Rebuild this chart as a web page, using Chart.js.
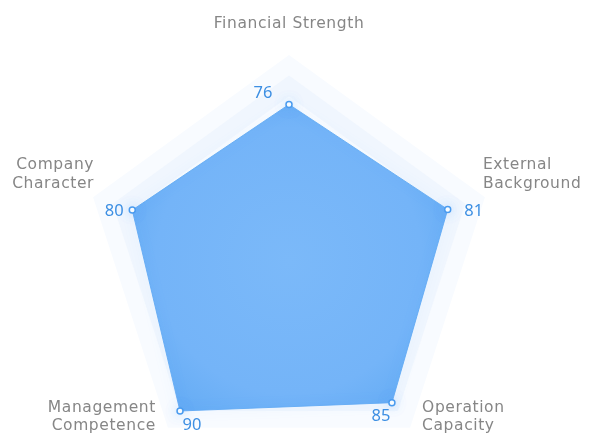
<!DOCTYPE html>
<html>
<head>
<meta charset="utf-8">
<style>
  html, body { margin: 0; padding: 0; background: #ffffff; overflow: hidden; }
  #wrap { width: 589px; height: 480px; position: relative; }
</style>
<script src="https://cdn.jsdelivr.net/npm/chart.js@4/dist/chart.umd.min.js"></script>
</head>
<body>
<div id="wrap"><canvas id="c" width="589" height="480"></canvas></div>
<script>
// ---- data ----
const categories = [
  ['Financial Strength'],
  ['External', 'Background'],
  ['Operation', 'Capacity'],
  ['Management', 'Competence'],
  ['Company', 'Character']
];
const scores = [76, 81, 85, 90, 80];
const scaleMin = 0;
const scaleMax = 100;
const bandStep = 10;

// ---- presentation ----
const nameStyle = [
  { align: 'center', dx: 0,   dy: [-31] },
  { align: 'left',   dx: -2,  dy: [-32, -13] },
  { align: 'left',   dx: 12,  dy: [-20, -2] },
  { align: 'right',  dx: -12, dy: [-20, -2] },
  { align: 'right',  dx: 1,   dy: [-32, -13] }
];
const valueOffset = [
  { dx: -26, dy: -11 },
  { dx: 26,  dy: 2 },
  { dx: -11, dy: 14 },
  { dx: 12,  dy: 14 },
  { dx: -18, dy: 1 }
];

const bandPlugin = {
  id: 'bands',
  beforeDatasetsDraw(chart) {
    const s = chart.scales.r;
    const ctx = chart.ctx;
    const n = chart.data.labels.length;
    const levels = [];
    for (let v = scaleMax; v > scaleMin; v -= bandStep) levels.push(v);
    levels.forEach((v, k) => {
      ctx.beginPath();
      for (let i = 0; i < n; i++) {
        const p = s.getPointPositionForValue(i, v);
        if (i === 0) ctx.moveTo(p.x, p.y); else ctx.lineTo(p.x, p.y);
      }
      ctx.closePath();
      ctx.fillStyle = (k % 2 === 0) ? '#f8fbff' : '#f0f6fe';
      ctx.fill();
    });
  }
};

const glowPlugin = {
  id: 'glow',
  beforeDatasetDraw(chart) {
    const ctx = chart.ctx;
    ctx.save();
    ctx.shadowColor = 'rgba(90,165,245,0.35)';
    ctx.shadowBlur = 12;
  },
  afterDatasetDraw(chart) {
    chart.ctx.restore();
  }
};

const textPlugin = {
  id: 'texts',
  afterDatasetsDraw(chart) {
    const s = chart.scales.r;
    const ctx = chart.ctx;
    ctx.save();
    // axis names
    ctx.font = '15.5px "DejaVu Sans", "Noto Sans", sans-serif';
    if ('letterSpacing' in ctx) ctx.letterSpacing = '0.6px';
    ctx.fillStyle = '#868686';
    ctx.textBaseline = 'middle';
    categories.forEach((lines, i) => {
      const p = s.getPointPositionForValue(i, scaleMax);
      const st = nameStyle[i];
      ctx.textAlign = st.align;
      lines.forEach((t, j) => ctx.fillText(t, p.x + st.dx, p.y + st.dy[j]));
    });
    // value labels
    if ('letterSpacing' in ctx) ctx.letterSpacing = '0px';
    ctx.font = '16.5px "Noto Sans", "Open Sans", sans-serif';
    ctx.fillStyle = '#3d8fe3';
    ctx.textAlign = 'center';
    const meta = chart.getDatasetMeta(0);
    meta.data.forEach((pt, i) => {
      ctx.fillText(String(scores[i]), pt.x + valueOffset[i].dx, pt.y + valueOffset[i].dy);
    });
    ctx.restore();
  }
};

const ctx = document.getElementById('c').getContext('2d');
const grad = ctx.createRadialGradient(289, 261, 0, 289, 261, 190);
grad.addColorStop(0, '#7bb9f9');
grad.addColorStop(0.7, '#74b4f8');
grad.addColorStop(1, '#63abf4');

new Chart(ctx, {
  type: 'radar',
  data: {
    labels: categories,
    datasets: [{
      data: scores,
      backgroundColor: grad,
      borderColor: 'rgba(99,171,244,0.9)',
      borderWidth: 1,
      fill: true,
      pointRadius: 3,
      pointBorderWidth: 1.5,
      pointBackgroundColor: '#ffffff',
      pointBorderColor: '#4a9bef',
      pointHoverRadius: 3
    }]
  },
  options: {
    responsive: false,
    animation: false,
    layout: { padding: { left: 0, right: 11, top: 55, bottom: 13 } },
    plugins: { legend: { display: false }, tooltip: { enabled: false } },
    scales: {
      r: {
        min: scaleMin,
        max: scaleMax,
        ticks: { display: false, stepSize: bandStep },
        grid: { display: false },
        angleLines: { display: false },
        pointLabels: { display: false }
      }
    }
  },
  plugins: [bandPlugin, glowPlugin, textPlugin]
});
</script>
</body>
</html>
